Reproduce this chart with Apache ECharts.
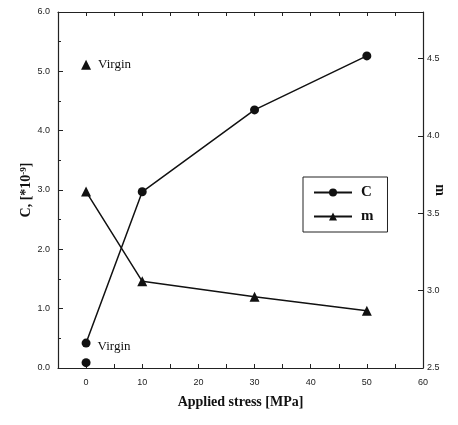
<!DOCTYPE html>
<html>
<head>
<meta charset="utf-8">
<script src="https://cdn.jsdelivr.net/npm/echarts@6/dist/echarts.min.js"></script>
<style>
  html, body { margin: 0; padding: 0; background: #fff; }
  #chart { width: 458px; height: 425px; }
</style>
</head>
<body>
<div id="chart"></div>
<script>
// stress values [MPa]
const stress = [0, 10, 30, 50];
// C [*10^-9] and m after loading
const cValues = [0.42, 2.97, 4.35, 5.26];
const mValues = [3.64, 3.06, 2.96, 2.87];
// virgin specimen
const virginC = [[0, 0.09]];
const virginM = [[0, 4.46]];

const serif = '"Liberation Serif", "DejaVu Serif", serif';
const sans = '"Liberation Sans", Arial, sans-serif';

const chart = echarts.init(document.getElementById('chart'));

const option = {
  animation: false,
  backgroundColor: '#fff',
  grid: { left: 58, right: 35, top: 12, bottom: 57, outerBoundsMode: 'none', containLabel: false },
  legend: {
    orient: 'vertical',
    left: 303,
    top: 177,
    width: 81,
    padding: [8, 14, 8, 10],
    itemGap: 9,
    itemWidth: 38,
    itemHeight: 10,
    borderColor: '#222',
    borderWidth: 1,
    data: ['C', 'm'],
    textStyle: { fontFamily: serif, fontWeight: 'bold', fontSize: 15, color: '#111', padding: [0, 0, 0, 4] }
  },
  xAxis: [{
    type: 'value',
    min: -5,
    max: 60,
    interval: 5,
    name: 'Applied stress [MPa]',
    nameLocation: 'middle',
    nameGap: 27,
    nameMoveOverlap: false,
    nameTextStyle: { fontFamily: serif, fontWeight: 'bold', fontSize: 14, color: '#111' },
    axisLine: { onZero: false, lineStyle: { color: '#222', width: 1.2 } },
    axisTick: { inside: true, length: 4, lineStyle: { color: '#222' } },
    axisLabel: {
      fontFamily: sans, fontSize: 9, color: '#222', margin: 10,
      formatter: v => (v >= 0 && v % 10 === 0) ? String(v) : ''
    },
    splitLine: { show: false }
  }, {
    type: 'value',
    position: 'top',
    min: -5,
    max: 60,
    interval: 5,
    axisLine: { show: true, onZero: false, lineStyle: { color: '#222', width: 1.2 } },
    axisTick: { show: true, inside: true, length: 4, lineStyle: { color: '#222' } },
    axisLabel: { show: false },
    splitLine: { show: false }
  }],
  yAxis: [{
    type: 'value',
    min: 0,
    max: 6,
    interval: 1,
    name: 'C, [*10{sup|-9}]',
    nameLocation: 'middle',
    nameGap: 24,
    nameMoveOverlap: false,
    nameTextStyle: {
      fontFamily: serif, fontWeight: 'bold', fontSize: 14, color: '#111',
      rich: { sup: { fontFamily: serif, fontWeight: 'bold', fontSize: 9, verticalAlign: 'top', padding: [0, 0, 6, 0] } }
    },
    axisLine: { show: true, onZero: false, lineStyle: { color: '#222', width: 1.2 } },
    axisTick: { inside: true, length: 5, lineStyle: { color: '#222' } },
    minorTick: { show: true, splitNumber: 2, length: 3, lineStyle: { color: '#222' } },
    axisLabel: { fontFamily: sans, fontSize: 9, color: '#222', margin: 8, formatter: v => v.toFixed(1) },
    splitLine: { show: false }
  }, {
    type: 'value',
    min: 2.5,
    max: 4.8,
    interval: 0.5,
    position: 'right',
    name: 'm',
    nameLocation: 'middle',
    nameGap: 10,
    nameMoveOverlap: false,
    nameRotate: -90,
    nameTextStyle: { fontFamily: serif, fontWeight: 'bold', fontSize: 14, color: '#111' },
    axisLine: { show: true, onZero: false, lineStyle: { color: '#222', width: 1.2 } },
    axisTick: { inside: true, length: 5, lineStyle: { color: '#222' } },
    axisLabel: { fontFamily: sans, fontSize: 9, color: '#222', margin: 4, showMaxLabel: false, formatter: v => v.toFixed(1) },
    splitLine: { show: false }
  }],
  series: [{
    name: 'C',
    type: 'line',
    yAxisIndex: 0,
    data: stress.map((s, i) => [s, cValues[i]]),
    symbol: 'circle',
    symbolSize: 9,
    lineStyle: { color: '#111', width: 1.5 },
    itemStyle: { color: '#111' }
  }, {
    name: 'm',
    type: 'line',
    yAxisIndex: 1,
    data: stress.map((s, i) => [s, mValues[i]]),
    symbol: 'triangle',
    symbolSize: 10,
    lineStyle: { color: '#111', width: 1.5 },
    itemStyle: { color: '#111' }
  }, {
    name: 'Virgin C',
    type: 'scatter',
    yAxisIndex: 0,
    data: virginC,
    symbol: 'circle',
    symbolSize: 9,
    itemStyle: { color: '#111', opacity: 1 },
    label: {
      show: true, formatter: 'Virgin', position: 'right', offset: [2, -16],
      fontFamily: serif, fontSize: 13, color: '#111'
    }
  }, {
    name: 'Virgin m',
    type: 'scatter',
    yAxisIndex: 1,
    data: virginM,
    symbol: 'triangle',
    symbolSize: 10,
    itemStyle: { color: '#111', opacity: 1 },
    label: {
      show: true, formatter: 'Virgin', position: 'right', offset: [2, 0],
      fontFamily: serif, fontSize: 13, color: '#111'
    }
  }]
};

chart.setOption(option);
</script>
</body>
</html>
